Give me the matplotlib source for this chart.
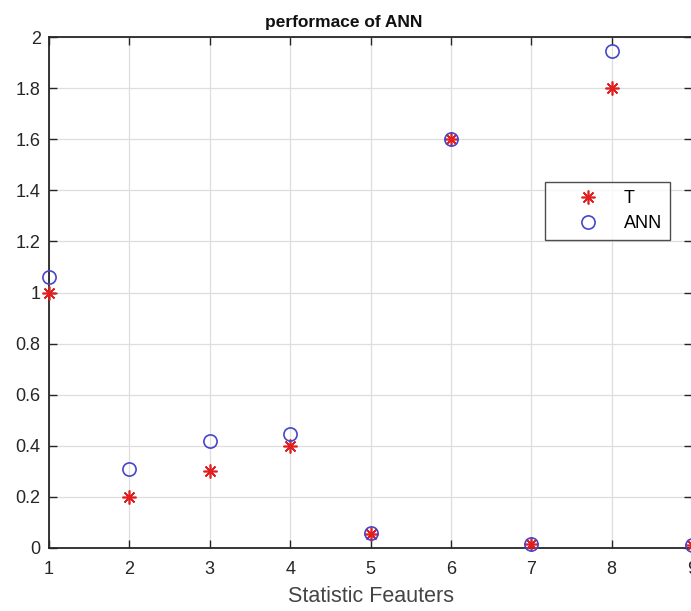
import numpy as np
import matplotlib
matplotlib.use("Agg")
import matplotlib.pyplot as plt

plt.rcParams['font.family'] = ['Liberation Sans', 'DejaVu Sans']

# values
features = [1, 2, 3, 4, 5, 6, 7, 8, 9]
target = [1.0, 0.2, 0.3, 0.4, 0.055, 1.6, 0.015, 1.8, 0.01]
ann_out = [1.06, 0.31, 0.42, 0.445, 0.058, 1.6, 0.015, 1.945, 0.012]
yticks = [0, 0.2, 0.4, 0.6, 0.8, 1, 1.2, 1.4, 1.6, 1.8, 2]
yticklabels = ['0', '0.2', '0.4', '0.6', '0.8', '1', '1.2', '1.4', '1.6', '1.8', '2']

W, H = 691, 611
fig = plt.figure(figsize=(W / 100, H / 100), dpi=100)
# axes box in pixels: left 49, right 692, top 37, bottom 548
ax = fig.add_axes([49 / W, (H - 548) / H, (692 - 49) / W, (548 - 37) / H])

axcol = '#262626'
ax.plot(features, target, linestyle='none', marker=(8, 2, 0), color='#e02020',
        markersize=10, markeredgewidth=1.2, label='T', clip_on=False, zorder=3)
ax.plot(features, ann_out, linestyle='none', marker='o', markerfacecolor='none',
        markeredgecolor='#4646c8', markersize=9.5, markeredgewidth=1.2,
        label='ANN', clip_on=False, zorder=3)

ax.set_xlim(1, 9)
ax.set_ylim(0, 2)
ax.set_xticks(features)
ax.set_yticks(yticks)
ax.set_yticklabels(yticklabels)
ax.grid(True, color='#dedede', linewidth=0.9)
ax.set_axisbelow(True)
ax.tick_params(direction='in', length=6, width=1, colors=axcol, labelsize=13,
               top=True, right=True, pad=6)
ax.tick_params(axis='x', pad=9)
for s in ax.spines.values():
    s.set_color(axcol)
    s.set_linewidth(1.3)

ax.set_title('performace of ANN', fontsize=12.5, fontweight='bold',
             color='#111111', x=0.459, pad=7)
ax.set_xlabel('Statistic Feauters', fontsize=15.5, color='#444444', labelpad=6)

leg = ax.legend(loc='upper left', bbox_to_anchor=((545 - 49) / 643, (548 - 182) / 511),
                frameon=True, fancybox=False, fontsize=13, handletextpad=0.0,
                borderpad=0.45, labelspacing=0.45, handlelength=3.9,
                borderaxespad=0)
leg.get_frame().set_edgecolor('#222222')
leg.get_frame().set_linewidth(1.0)

fig.savefig('out.png', dpi=100)
